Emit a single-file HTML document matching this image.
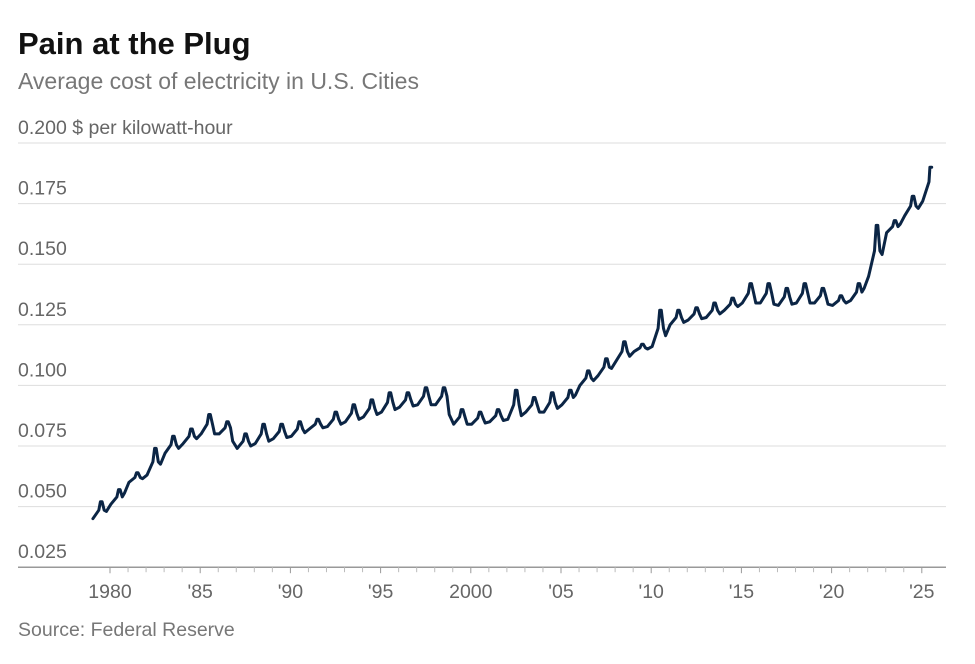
<!DOCTYPE html>
<html><head><meta charset="utf-8"><style>
body{margin:0;background:#fff;width:975px;height:659px;overflow:hidden;font-family:"Liberation Sans",sans-serif}
</style></head><body>
<svg id="c" width="975" height="659">
<text x="18" y="54" font-size="31" font-weight="bold" fill="#111">Pain at the Plug</text>
<text x="18" y="89" font-size="23" fill="#777">Average cost of electricity in U.S. Cities</text>
<text x="18" y="636" font-size="19.5" fill="#777">Source: Federal Reserve</text>
<g id="grid"></g><g id="xt"></g><path id="line" fill="none" stroke="#0b2545" stroke-width="3" stroke-linejoin="round" stroke-linecap="round"/>
</svg>
<script>
const years=[1979,1980,1981,1982,1983,1984,1985,1986,1987,1988,1989,1990,1991,1992,1993,1994,1995,1996,1997,1998,1999,2000,2001,2002,2003,2004,2005,2006,2007,2008,2009,2010,2011,2012,2013,2014,2015,2016,2017,2018,2019,2020,2021,2022,2023,2024,2025];
const lows=[0.045,0.051,0.060,0.063,0.072,0.076,0.080,0.080,0.074,0.076,0.078,0.079,0.082,0.083,0.085,0.087,0.089,0.091,0.092,0.092,0.084,0.084,0.085,0.086,0.089,0.089,0.092,0.100,0.104,0.110,0.114,0.116,0.125,0.127,0.128,0.131,0.134,0.134,0.133,0.134,0.134,0.133,0.135,0.145,0.163,0.170,0.176];
const highs=[0.052,0.057,0.064,0.074,0.079,0.082,0.088,0.085,0.080,0.084,0.084,0.085,0.086,0.089,0.092,0.094,0.097,0.097,0.099,0.099,0.090,0.089,0.090,0.098,0.095,0.097,0.098,0.106,0.111,0.118,0.117,0.131,0.131,0.132,0.134,0.136,0.142,0.142,0.140,0.142,0.140,0.137,0.142,0.166,0.168,0.178,0.190];
const yTicks=[0.025,0.05,0.075,0.1,0.125,0.15,0.175,0.2];
const xTicks=[1980,1985,1990,1995,2000,2005,2010,2015,2020,2025];
const xLabels=['1980',"'85","'90","'95",'2000',"'05","'10","'15","'20","'25"];
const X=t=>110+(t-1980)*18.04, Y=v=>143+(0.2-v)/0.025*60.6;
const NS='http://www.w3.org/2000/svg';
const g=document.getElementById('grid'), xt=document.getElementById('xt');
yTicks.forEach((v,i)=>{
 const l=document.createElementNS(NS,'line');
 l.setAttribute('x1',18);l.setAttribute('x2',946);l.setAttribute('y1',Y(v));l.setAttribute('y2',Y(v));
 l.setAttribute('stroke',i==0?'#999':'#ddd');l.setAttribute('stroke-width',i==0?1.5:1);
 
 
 g.appendChild(l);
 const t=document.createElementNS(NS,'text');
 t.setAttribute('x',18);t.setAttribute('y',Y(v)-9);t.setAttribute('font-size',19.5);t.setAttribute('fill','#666');
 t.textContent=v.toFixed(3)+(i==yTicks.length-1?' $ per kilowatt-hour':'');
 
 
 g.appendChild(t);
});
xTicks.forEach((y,i)=>{
 const l=document.createElementNS(NS,'line');
 l.setAttribute('x1',X(y));l.setAttribute('x2',X(y));l.setAttribute('y1',Y(0.025));l.setAttribute('y2',Y(0.025)+6);l.setAttribute('stroke','#999');
 
 
 xt.appendChild(l);
 for(let k=1;k<5&&y+k<=2025;k++){const m=document.createElementNS(NS,'line');
  m.setAttribute('x1',X(y+k));m.setAttribute('x2',X(y+k));m.setAttribute('y1',Y(0.025));m.setAttribute('y2',Y(0.025)+5);m.setAttribute('stroke','#bbb');
  
  
  xt.appendChild(m);}
 const t=document.createElementNS(NS,'text');
 t.setAttribute('x',X(y));t.setAttribute('y',598);t.setAttribute('font-size',19.5);t.setAttribute('fill','#666');t.setAttribute('text-anchor','middle');
 t.textContent=xLabels[i];
 
 
 xt.appendChild(t);
});
let d='';
years.forEach((y,i)=>{
 const last=i==years.length-1;
 const pts=last?[[y+0.05,lows[i]],[y+0.4,highs[i]-0.006],[y+0.45,highs[i]],[y+0.55,highs[i]]]:
  [[y+0.05,lows[i]],[y+0.38,(lows[i]+highs[i])/2],[y+0.47,highs[i]],[y+0.56,highs[i]],[y+0.68,(lows[i]+highs[i])/2],[y+0.8,(lows[i]+(lows[i+1]))/2]];
 pts.forEach((p,j)=>{d+=(i==0&&j==0?'M':'L')+X(p[0]).toFixed(1)+','+Y(p[1]).toFixed(1);});
});
document.getElementById('line').setAttribute('d',d);
</script>
</body></html>
